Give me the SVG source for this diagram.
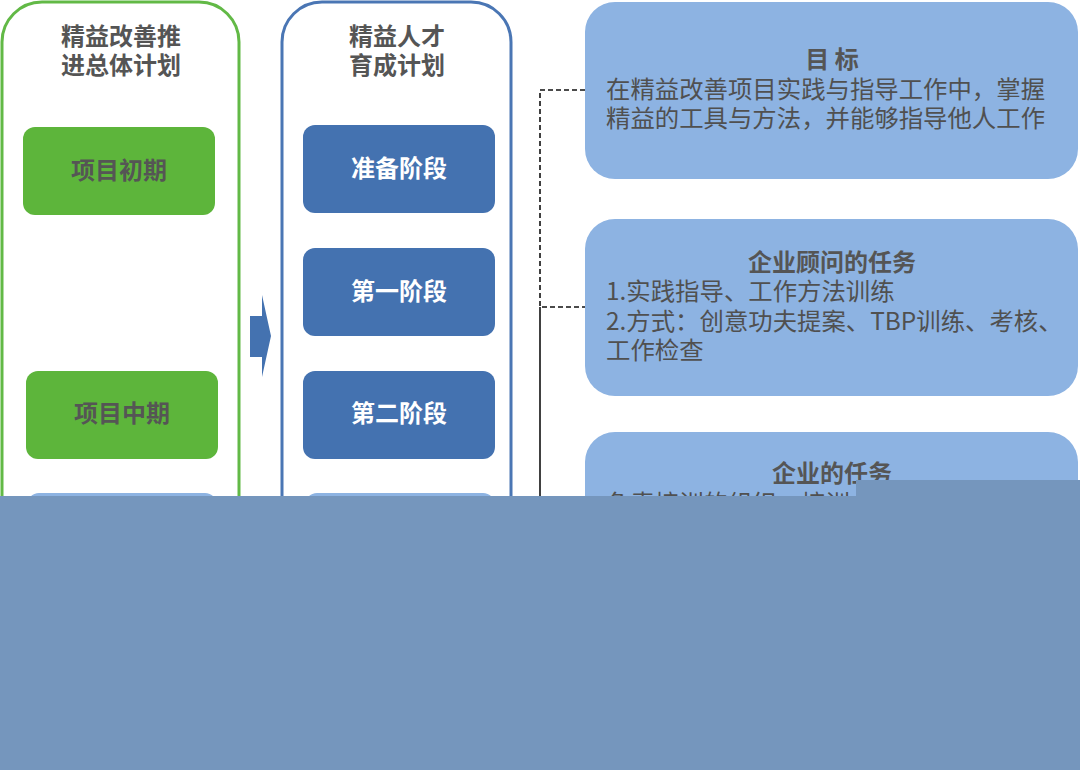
<svg xmlns="http://www.w3.org/2000/svg" width="1080" height="770" viewBox="0 0 1080 770">
<style>
text{font-family:"Noto Sans CJK SC","Noto Sans",sans-serif;font-size:24px;}
.h{fill:#555;font-weight:bold;text-anchor:middle;}
.g{fill:#5DB53B;}
.b{fill:#4472B0;}
.lb{fill:#8DB3E2;}
.wt{fill:#fff;font-weight:bold;text-anchor:middle;}
.dt{fill:#555;font-weight:bold;text-anchor:middle;}
.bt{fill:#505050;font-weight:normal;font-size:24.4px;}
.dash{fill:none;stroke:#111;stroke-width:1.6;stroke-dasharray:5 3;}
</style>
<rect width="1080" height="770" fill="#fff"/>
<g id="plan-col">
<rect x="2" y="2" width="237" height="800" rx="40" fill="none" stroke="#62B946" stroke-width="3"/>
<text class="h" x="121" y="45">精益改善推</text>
<text class="h" x="121" y="74">进总体计划</text>
</g>
<g id="talent-col">
<rect x="282" y="2" width="229" height="800" rx="40" fill="none" stroke="#4A76B4" stroke-width="3"/>
<text class="h" x="397" y="45">精益人才</text>
<text class="h" x="397" y="74">育成计划</text>
</g>
<g id="p1"><rect class="g" x="23" y="127" width="192" height="88" rx="12"/><text class="dt" x="119" y="179">项目初期</text></g>
<g id="p2"><rect class="g" x="26" y="371" width="192" height="88" rx="12"/><text class="dt" x="122" y="422">项目中期</text></g>
<g id="p3"><rect class="lb" x="27" y="493" width="190" height="88" rx="12"/></g>
<g id="s0"><rect class="b" x="303" y="125" width="192" height="88" rx="12"/><text class="wt" x="399" y="177">准备阶段</text></g>
<g id="s1"><rect class="b" x="303" y="248" width="192" height="88" rx="12"/><text class="wt" x="399" y="300">第一阶段</text></g>
<g id="s2"><rect class="b" x="303" y="371" width="192" height="88" rx="12"/><text class="wt" x="399" y="422">第二阶段</text></g>
<g id="s3"><rect class="lb" x="305" y="493" width="190" height="88" rx="12"/></g>
<g id="arrow"><polygon class="b" points="250,316 262,316 262,295 271,336 262,377 262,357 250,357"/></g>
<g id="goal">
<rect class="lb" x="585" y="2" width="493" height="177" rx="30"/>
<text class="dt" x="832" y="68">目 标</text>
<text class="bt" x="606" y="98">在精益改善项目实践与指导工作中，掌握</text>
<text class="bt" x="606" y="127">精益的工具与方法，并能够指导他人工作</text>
</g>
<g id="consultant">
<rect class="lb" x="585" y="219" width="493" height="177" rx="30"/>
<text class="dt" x="832" y="271">企业顾问的任务</text>
<text class="bt" x="606" y="300">1.实践指导、工作方法训练</text>
<text class="bt" x="606" y="330">2.方式：创意功夫提案、TBP训练、考核、</text>
<text class="bt" x="606" y="359">工作检查</text>
</g>
<g id="company">
<rect class="lb" x="585" y="432" width="493" height="177" rx="30"/>
<text class="dt" x="832" y="482">企业的任务</text>
<text class="bt" x="606" y="512">负责培训的组织、培训</text>
</g>
<g id="connectors">
<path class="dash" d="M585,90 H540 V307 H585"/>
<path d="M540,307 V600" fill="none" stroke="#111" stroke-width="1.6"/>
</g>
<g id="overlay">
<path d="M0,496 H856 V480 H1080 V770 H0 Z" fill="#7596BD"/>
</g>
</svg>
